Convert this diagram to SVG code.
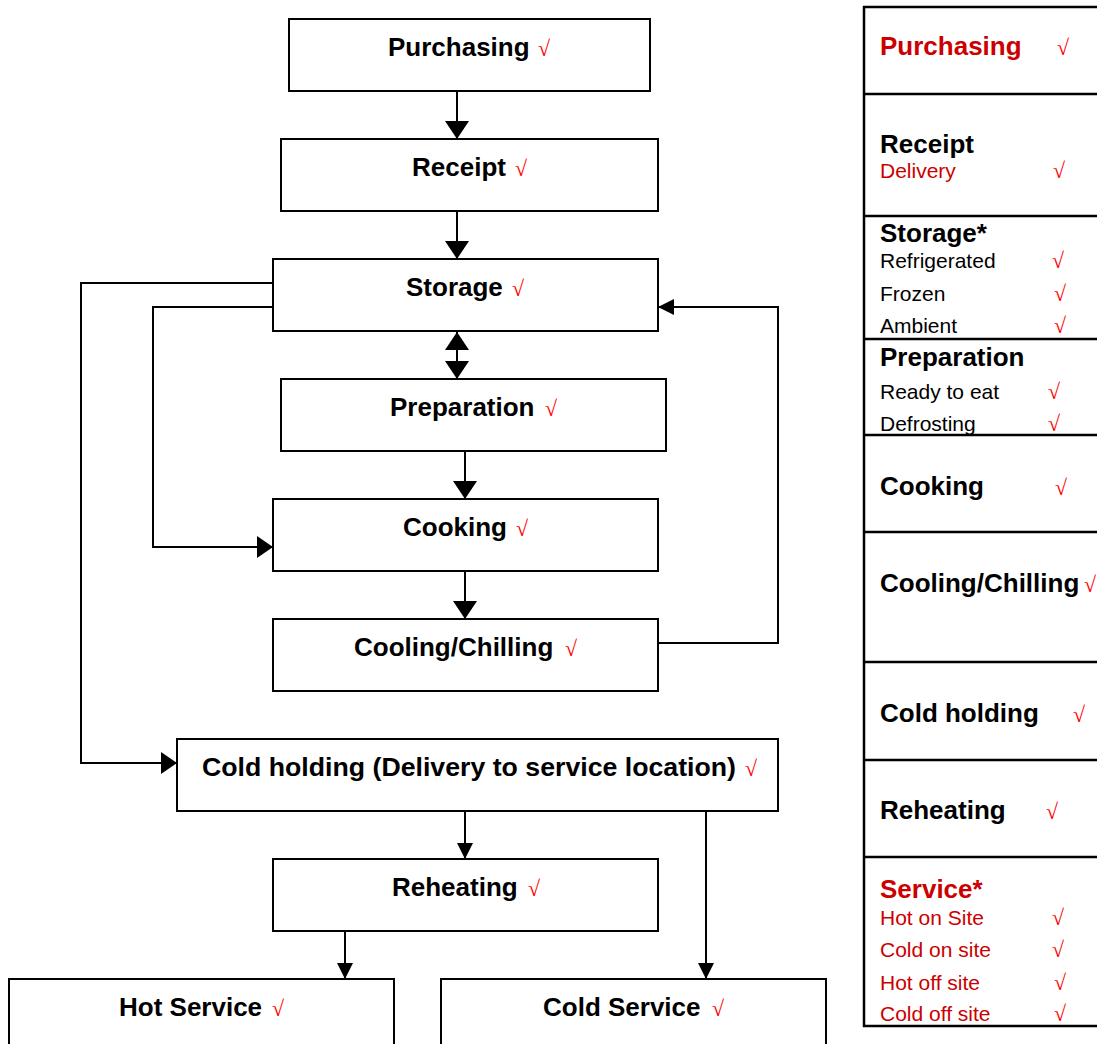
<svg xmlns="http://www.w3.org/2000/svg" width="1097" height="1044" viewBox="0 0 1097 1044">
<style>
.box{fill:#fff;stroke:#000;stroke-width:2}
.lbl{font-family:"Liberation Sans",Arial,sans-serif;font-weight:bold;font-size:26px;fill:#000}
.chk{font-family:"Liberation Serif","Times New Roman",serif;font-size:22px;fill:#ff0000}
.con{fill:none;stroke:#000;stroke-width:2}
.tl{stroke:#000;stroke-width:2.5}
.th{font-family:"Liberation Sans",Arial,sans-serif;font-weight:bold;font-size:26px;fill:#000}
.ts{font-family:"Liberation Sans",Arial,sans-serif;font-size:21px;fill:#000}
.red{fill:#cc0000}
</style>
<defs>
<marker id="ah" markerUnits="userSpaceOnUse" markerWidth="20" markerHeight="26" refX="18" refY="12" orient="auto">
<path d="M0,0 L18,12 L0,24 z" fill="#000"/>
</marker>
<marker id="ahs" markerUnits="userSpaceOnUse" markerWidth="20" markerHeight="26" refX="0" refY="12" orient="auto">
<path d="M18,0 L0,12 L18,24 z" fill="#000"/>
</marker>
<marker id="am" markerUnits="userSpaceOnUse" markerWidth="18" markerHeight="24" refX="16" refY="11" orient="auto">
<path d="M0,0 L16,11 L0,22 z" fill="#000"/>
</marker>
<marker id="asm" markerUnits="userSpaceOnUse" markerWidth="18" markerHeight="18" refX="16" refY="8" orient="auto">
<path d="M0,0 L16,8 L0,16 z" fill="#000"/>
</marker>
</defs>
<rect width="1097" height="1044" fill="#fff"/>

<g id="connectors">
<line class="con" x1="457" y1="91" x2="457" y2="139" marker-end="url(#ah)"/>
<line class="con" x1="457" y1="211" x2="457" y2="259" marker-end="url(#ah)"/>
<line class="con" x1="457" y1="332" x2="457" y2="379" marker-start="url(#ahs)" marker-end="url(#ah)"/>
<line class="con" x1="465" y1="451" x2="465" y2="499" marker-end="url(#ah)"/>
<line class="con" x1="465" y1="571" x2="465" y2="619" marker-end="url(#ah)"/>
<polyline class="con" points="273,283 81,283 81,763 177,763" marker-end="url(#am)"/>
<polyline class="con" points="273,307 153,307 153,547 273,547" marker-end="url(#am)"/>
<polyline class="con" points="658,643 778,643 778,307 658,307" marker-end="url(#asm)"/>
<line class="con" x1="465" y1="811" x2="465" y2="859" marker-end="url(#asm)"/>
<line class="con" x1="706" y1="811" x2="706" y2="979" marker-end="url(#asm)"/>
<line class="con" x1="345" y1="931" x2="345" y2="979" marker-end="url(#asm)"/>
</g>

<g id="purchasing"><rect class="box" x="289" y="19" width="361" height="72"/><text class="lbl" x="388" y="56">Purchasing</text><text class="chk" x="538" y="56">√</text></g>
<g id="receipt"><rect class="box" x="281" y="139" width="377" height="72"/><text class="lbl" x="412" y="176">Receipt</text><text class="chk" x="515" y="176">√</text></g>
<g id="storage"><rect class="box" x="273" y="259" width="385" height="72"/><text class="lbl" x="406" y="296">Storage</text><text class="chk" x="512" y="296">√</text></g>
<g id="preparation"><rect class="box" x="281" y="379" width="385" height="72"/><text class="lbl" x="390" y="416">Preparation</text><text class="chk" x="545" y="416">√</text></g>
<g id="cooking"><rect class="box" x="273" y="499" width="385" height="72"/><text class="lbl" x="403" y="536">Cooking</text><text class="chk" x="516" y="536">√</text></g>
<g id="cooling"><rect class="box" x="273" y="619" width="385" height="72"/><text class="lbl" x="354" y="656">Cooling/Chilling</text><text class="chk" x="565" y="656">√</text></g>
<g id="coldholding"><rect class="box" x="177" y="739" width="601" height="72"/><text class="lbl" x="202" y="776" textLength="534" lengthAdjust="spacingAndGlyphs">Cold holding (Delivery to service location)</text><text class="chk" x="745" y="776">√</text></g>
<g id="reheating"><rect class="box" x="273" y="859" width="385" height="72"/><text class="lbl" x="392" y="896">Reheating</text><text class="chk" x="528" y="896">√</text></g>
<g id="hotservice"><rect class="box" x="9" y="979" width="385" height="72"/><text class="lbl" x="119" y="1016">Hot Service</text><text class="chk" x="272" y="1016">√</text></g>
<g id="coldservice"><rect class="box" x="441" y="979" width="385" height="72"/><text class="lbl" x="543" y="1016">Cold Service</text><text class="chk" x="712" y="1016">√</text></g>

<g id="table">
<line class="tl" x1="864" y1="6" x2="864" y2="1027"/>
<line class="tl" x1="863" y1="7" x2="1097" y2="7"/>
<line class="tl" x1="863" y1="94" x2="1097" y2="94"/>
<line class="tl" x1="863" y1="216" x2="1097" y2="216"/>
<line class="tl" x1="863" y1="339" x2="1097" y2="339"/>
<line class="tl" x1="863" y1="435" x2="1097" y2="435"/>
<line class="tl" x1="863" y1="532" x2="1097" y2="532"/>
<line class="tl" x1="863" y1="662" x2="1097" y2="662"/>
<line class="tl" x1="863" y1="760" x2="1097" y2="760"/>
<line class="tl" x1="863" y1="857" x2="1097" y2="857"/>
<line class="tl" x1="863" y1="1026" x2="1097" y2="1026"/>

<text class="th red" x="880" y="55">Purchasing</text><text class="chk" x="1057" y="55">√</text>
<text class="th" x="880" y="153">Receipt</text>
<text class="ts red" x="880" y="178">Delivery</text><text class="chk" x="1053" y="178">√</text>
<text class="th" x="880" y="242">Storage*</text>
<text class="ts" x="880" y="268">Refrigerated</text><text class="chk" x="1052" y="268">√</text>
<text class="ts" x="880" y="301">Frozen</text><text class="chk" x="1054" y="301">√</text>
<text class="ts" x="880" y="333">Ambient</text><text class="chk" x="1054" y="333">√</text>
<text class="th" x="880" y="366">Preparation</text>
<text class="ts" x="880" y="399">Ready to eat</text><text class="chk" x="1048" y="399">√</text>
<text class="ts" x="880" y="431">Defrosting</text><text class="chk" x="1048" y="431">√</text>
<text class="th" x="880" y="495">Cooking</text><text class="chk" x="1055" y="495">√</text>
<text class="th" x="880" y="592">Cooling/Chilling</text><text class="chk" x="1084" y="592">√</text>
<text class="th" x="880" y="722">Cold holding</text><text class="chk" x="1073" y="722">√</text>
<text class="th" x="880" y="819">Reheating</text><text class="chk" x="1046" y="819">√</text>
<text class="th red" x="880" y="898">Service*</text>
<text class="ts red" x="880" y="925">Hot on Site</text><text class="chk" x="1052" y="925">√</text>
<text class="ts red" x="880" y="957">Cold on site</text><text class="chk" x="1052" y="957">√</text>
<text class="ts red" x="880" y="990">Hot off site</text><text class="chk" x="1054" y="990">√</text>
<text class="ts red" x="880" y="1021">Cold off site</text><text class="chk" x="1054" y="1021">√</text>
</g>
</svg>
